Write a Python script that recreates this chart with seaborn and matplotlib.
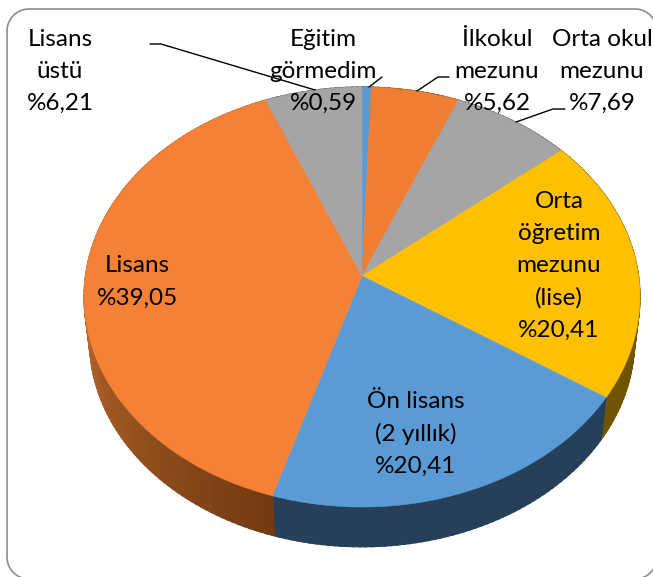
import numpy as np
import seaborn as sns
import matplotlib.pyplot as plt
from matplotlib.transforms import Transform

# Education levels, clockwise from 12 o'clock
labels = ["Eğitim\ngörmedim", "İlkokul\nmezunu", "Orta okul\nmezunu", "Orta\nöğretim\nmezunu\n(lise)",
          "Ön lisans\n(2 yıllık)", "Lisans", "Lisans\nüstü"]
values = [0.59, 5.62, 7.69, 20.41, 20.41, 39.05, 6.21]
value_text = ["%0,59", "%5,62", "%7,69", "%20,41", "%20,41", "%39,05", "%6,21"]
colors = ["#5B9BD5", "#F07E32", "#A5A5A5", "#FFC000", "#5B9BD5", "#F48135", "#A5A5A5"]
side_colors = ["#2A4560", "#7A3E14", "#555555", "#705400", "#26405A", "#A85E28", "#555555"]

CX, CY, RX, RY, TILT = 362, 297, 276.6, 210, 0.1
DEPTH, SHRINK = 44, 0.98


def project(x, y):
    # tilted disc: unit circle to pixel coordinates, the pie centre sits above the ellipse centre
    w = 1 + TILT * y
    return CX + RX * x / w, CY - RY * (y + TILT) / w


class Tilt(Transform):
    input_dims = output_dims = 2

    def transform_non_affine(self, values):
        px, py = project(values[:, 0], values[:, 1])
        return np.column_stack([px, py])


sns.set_theme(style="white")
plt.rcParams["font.family"] = ["Lato", "DejaVu Sans"]

fig, ax = plt.subplots(figsize=(6.53, 5.77), dpi=100)
fig.subplots_adjust(0, 0, 1, 1)

# side wall, thin strips between the top rim and the lower rim
wall_shades = sns.blend_palette(["#743A12", "#B96A2C"], 50)
edges = 90 - np.cumsum([0] + values) * 3.6
for i in range(len(values)):
    angles = np.linspace(edges[i], edges[i + 1], max(int(values[i] * 3), 2) + 1)
    for a0, a1 in zip(angles[:-1], angles[1:]):
        t = np.radians(np.linspace(a0, a1 - 0.6, 4))
        tx, ty = project(np.cos(t), np.sin(t))
        bx = CX + SHRINK * (tx - CX)
        by = CY + SHRINK * (ty - CY) + DEPTH
        col = side_colors[i]
        if labels[i] == "Lisans":
            # lighter towards the left of the pie
            mix = np.clip((-a0 - 107) / 70, 0, 1)
            col = wall_shades[int(mix * 49)]
        ax.fill(np.r_[tx, bx[::-1]], np.r_[ty, by[::-1]], color=col, lw=0.8, zorder=1)

# top face
wedges, _ = ax.pie(values, colors=colors, startangle=90, counterclock=False, radius=1)
for w in wedges:
    w.set_transform(Tilt() + ax.transData)
    w.set_zorder(2)
    w.set_edgecolor(w.get_facecolor())
    w.set_linewidth(0.4)

ax.set_aspect("auto")
ax.set_xlim(0, 653)
ax.set_ylim(577, 0)
ax.axis("off")

# chart frame runs past the right and bottom of the picture
L, T, R, B, rad = 7, 9, 657, 579, 22
corner = np.radians(np.linspace(0, 90, 20))
fx = np.r_[L + rad - rad * np.sin(corner), L + rad - rad * np.cos(corner), R - rad + rad * np.sin(corner),
           R - rad + rad * np.cos(corner), L + rad]
fy = np.r_[B - rad + rad * np.cos(corner), T + rad - rad * np.sin(corner), T + rad - rad * np.cos(corner),
           B - rad + rad * np.sin(corner), B]
ax.plot(fx, fy, color="#8C8C8C", lw=1.2, zorder=0, scalex=False, scaley=False)

# leader lines
leaders = [([150, 161, 315], [44, 44, 90]),
           ([382, 369], [77, 87]),
           ([449, 438, 417], [77, 77, 91]),
           ([565, 553, 516], [109, 109, 122])]
for lx, ly in leaders:
    ax.plot(lx, ly, color="black", lw=1, zorder=3)

# data labels
label_pos = [(323, 39), (497, 39), (602, 39), (559, 201), (416, 402), (137, 266), (60, 39)]
for name, val, (x, y) in zip(labels, value_text, label_pos):
    lines = (name + "\n" + val).split("\n")
    for k, line in enumerate(lines):
        ax.text(x, y + 32.4 * k, line, ha="center", va="center", fontsize=17.5, color="black", zorder=4)

plt.savefig("out.png", dpi=100)
